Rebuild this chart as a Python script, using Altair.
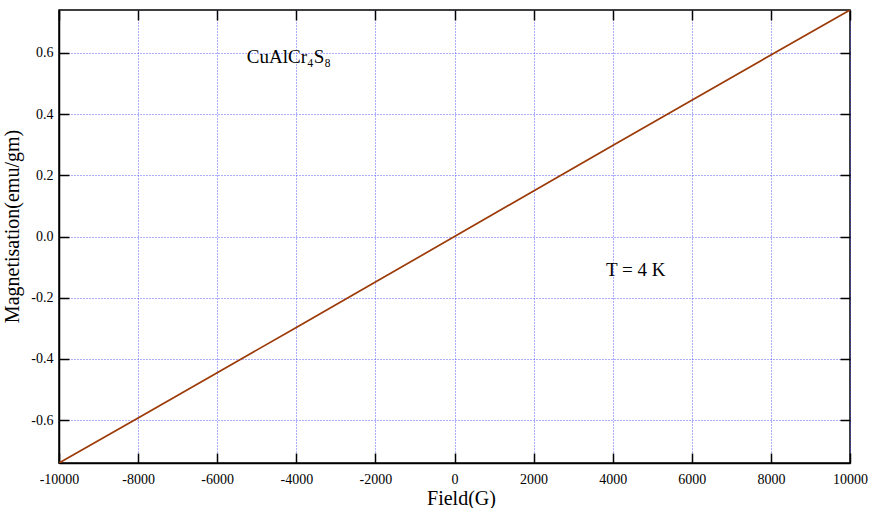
import altair as alt
import pandas as pd

# Data
field_g = [-10000, -8000, -6000, -4000, -2000, 0, 2000, 4000, 6000, 8000, 10000]
magnet = [-0.74, -0.593, -0.445, -0.297, -0.149, 0.0, 0.149, 0.297, 0.445, 0.593, 0.74]

x_ticks = [-10000, -8000, -6000, -4000, -2000, 0, 2000, 4000, 6000, 8000, 10000]
y_ticks = [-0.6, -0.4, -0.2, 0.0, 0.2, 0.4, 0.6]

ann_text = ["CuAlCr₄S₈", "T = 4 K"]
ann_x = [-5250, 3830]
ann_y = [0.585, -0.108]

W, H = 791, 453
FONT = "Liberation Serif"

df = pd.DataFrame({"field": field_g, "m": magnet})
ann = pd.DataFrame({"t": ann_text, "x": ann_x, "y": ann_y})

xs = alt.Scale(domain=[-10000, 10000], nice=False, zero=False)
ys = alt.Scale(domain=[-0.74, 0.74], nice=False, zero=False)

xlab = "datum.value < 0 ? '-' + format(-datum.value, 'd') : format(datum.value, 'd')"
ylab = "datum.value < 0 ? '-' + format(-datum.value, '.1f') : format(datum.value, '.1f')"

grid_kw = dict(grid=True, gridColor="#4040ff", gridDash=[1, 2], gridWidth=1, gridOpacity=0.85)

main = alt.Chart(df).mark_line(color="#9c3a08", strokeWidth=1.7, clip=True).encode(
    x=alt.X("field:Q", scale=xs, axis=alt.Axis(
        orient="bottom", values=x_ticks, labelExpr=xlab, ticks=False, domain=True,
        domainColor="black", domainWidth=1.5, labelPadding=9, labelFlush=False,
        labelOverlap=False, labelFont=FONT, labelFontSize=14, labelColor="black",
        title="Field(G)", titleFont=FONT, titleFontSize=20, titleFontWeight="normal",
        titleColor="black", titlePadding=2, titleX=402, **grid_kw)),
    y=alt.Y("m:Q", scale=ys, axis=alt.Axis(
        orient="left", values=y_ticks, labelExpr=ylab, ticks=False, domain=True,
        domainColor="black", domainWidth=1.5, labelPadding=6, labelFlush=False,
        labelOverlap=False, labelFont=FONT, labelFontSize=14, labelColor="black",
        title="Magnetisation(emu/gm)", titleFont=FONT, titleFontSize=20,
        titleFontWeight="normal", titleColor="black", titlePadding=8, titleY=216,
        **grid_kw)),
)

tick_kw = dict(labels=False, domain=False, grid=False, ticks=True, tickSize=10,
               tickColor="black", tickWidth=1.5, title=None)

inner1 = alt.Chart(df).mark_line(opacity=0).encode(
    x=alt.X("field:Q", scale=xs, axis=alt.Axis(orient="top", offset=-H, values=x_ticks, **tick_kw)),
    y=alt.Y("m:Q", scale=ys, axis=alt.Axis(orient="right", offset=-W, values=y_ticks, **tick_kw)),
)
inner2 = alt.Chart(df).mark_line(opacity=0).encode(
    x=alt.X("field:Q", scale=xs, axis=alt.Axis(orient="bottom", offset=-H, values=x_ticks, **tick_kw)),
    y=alt.Y("m:Q", scale=ys, axis=alt.Axis(orient="left", offset=-W, values=y_ticks, **tick_kw)),
)

text = alt.Chart(ann).mark_text(font=FONT, fontSize=19, align="left", baseline="middle",
                                color="black").encode(
    x=alt.X("x:Q", scale=xs, axis=None),
    y=alt.Y("y:Q", scale=ys, axis=None),
    text="t:N",
)

chart = alt.layer(main, inner1, inner2, text).resolve_axis(
    x="independent", y="independent"
).properties(
    width=W, height=H,
    autosize=alt.AutoSizeParams(type="none"),
    padding={"left": 59, "top": 10, "right": 19, "bottom": 45},
    background="white",
).configure_view(stroke="black", strokeWidth=1.5)

chart.save("out.html", embed_options={"renderer": "svg", "actions": False})
